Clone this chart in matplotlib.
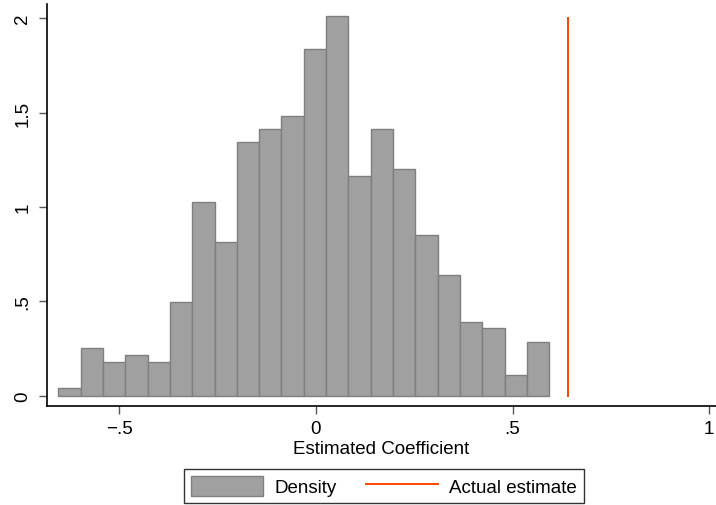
import matplotlib
matplotlib.use("Agg")
import matplotlib.pyplot as plt
from matplotlib.patches import Patch
from matplotlib.lines import Line2D

plt.rcParams['font.family'] = ['Liberation Sans', 'DejaVu Sans']

# Histogram data (density), 22 bins
bin_left = -0.6557
bin_width = 0.0568
density = [0.041, 0.251, 0.180, 0.216, 0.180, 0.498, 1.028, 0.814, 1.342, 1.413,
           1.483, 1.836, 2.013, 1.165, 1.413, 1.201, 0.850, 0.639, 0.392, 0.357,
           0.110, 0.286]
actual_estimate = 0.640
line_ymax = 2.0

x_ticks = [-0.5, 0, 0.5, 1]
x_ticklabels = ['\u2212.5', '0', '.5', '1']
y_ticks = [0, 0.5, 1, 1.5, 2]
y_ticklabels = ['0', '.5', '1', '1.5', '2']

FS = 13.5

fig = plt.figure(figsize=(7.16, 5.06), dpi=100)
ax = fig.add_axes([0.0652, 0.195, 0.935, 0.795])

lefts = [bin_left + i * bin_width for i in range(len(density))]
ax.bar(lefts, density, width=bin_width, align='edge', color='#A0A0A0',
       edgecolor='#7F7F7F', linewidth=1.0)
ax.plot([actual_estimate, actual_estimate], [0, line_ymax], color='#FF4500', lw=1.4)

ax.set_xlim(-0.685, 1.018)
ax.set_ylim(-0.056, 2.075)
ax.spines['top'].set_visible(False)
ax.spines['right'].set_visible(False)
for s in ['left', 'bottom']:
    ax.spines[s].set_linewidth(1.2)
ax.set_xticks(x_ticks)
ax.set_xticklabels(x_ticklabels, fontsize=FS)
ax.set_yticks(y_ticks)
ax.set_yticklabels(y_ticklabels, fontsize=FS, rotation=90, va='center')
ax.tick_params(axis='both', length=6, width=1.0, color='#555555', pad=4)
ax.tick_params(axis='y', pad=5)
ax.set_xlabel('Estimated Coefficient', fontsize=FS, labelpad=2)

handles = [Patch(facecolor='#A0A0A0', edgecolor='#7F7F7F', linewidth=1.0),
           Line2D([0], [0], color='#FF4500', lw=1.4)]
leg = fig.legend(handles, ['Density', 'Actual estimate'], ncol=2,
                 loc='center', bbox_to_anchor=(384 / 716, 1 - 487 / 506),
                 fontsize=FS, frameon=True, fancybox=False, edgecolor='black',
                 handlelength=3.84, handleheight=1.26, columnspacing=1.6,
                 handletextpad=0.59, borderpad=0.35, borderaxespad=0)
leg.get_frame().set_linewidth(1.0)

fig.savefig('out.png', dpi=100)
